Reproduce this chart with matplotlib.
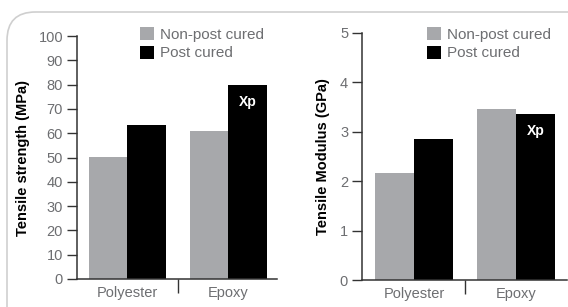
import matplotlib.pyplot as plt
from matplotlib.patches import FancyBboxPatch

plt.rcParams['font.family'] = ['Liberation Sans', 'DejaVu Sans']

materials = ['Polyester', 'Epoxy']
series = ['Non-post cured', 'Post cured']
strength_non = [50.3, 60.8]
strength_post = [63.3, 80.0]
modulus_non = [2.17, 3.46]
modulus_post = [2.86, 3.36]
strength_ticks = list(range(0, 101, 10))
modulus_ticks = [0, 1, 2, 3, 4, 5]

grey = '#a7a8ab'
dark = '#333333'
txt = '#6d6e71'
W, H = 568, 307

fig = plt.figure(figsize=(W / 100, H / 100), dpi=100)

# rounded frame, cropped on the right and bottom
frame = FancyBboxPatch((7 / W, -0.2), 1.3, 1.2 - 12 / H,
                       boxstyle='round,pad=0,rounding_size=0.05',
                       transform=fig.transFigure, fc='white', ec='#cfcfcf',
                       lw=1.2, mutation_aspect=W / H, zorder=-5)
fig.patches.append(frame)
fig.text(76 / W, 1 + 4 / H, 'g', fontsize=14, fontweight='bold', color='black',
         ha='left', va='baseline')


def panel(rect, non, post, ymax, ticks, ylabel, xlim, leg_xy, ylab_x):
    ax = fig.add_axes(rect)
    ax.patch.set_alpha(0)
    x = range(len(materials))
    w = 0.38
    b1 = ax.bar([i - w / 2 for i in x], non, w, color=grey, label=series[0])
    b2 = ax.bar([i + w / 2 for i in x], post, w, color='black', label=series[1])
    ax.text(1 + w / 2, post[1] - ymax * 0.07, 'Xp', color='white',
            fontweight='bold', fontsize=10, ha='center', va='center')
    ax.set_xlim(*xlim)
    ax.set_ylim(0, ymax)
    for s in ['top', 'right']:
        ax.spines[s].set_visible(False)
    for s in ['left', 'bottom']:
        ax.spines[s].set_color(dark)
        ax.spines[s].set_linewidth(1.1)
    ax.set_yticks(ticks)
    ax.tick_params(axis='y', length=7, width=1, color=dark, pad=3,
                   labelsize=10.5, labelcolor=txt)
    ax.set_xticks([0.5])
    ax.set_xticklabels([''])
    ax.tick_params(axis='x', which='major', length=10, width=1, color=dark)
    ax.set_xticks([0, 1], minor=True)
    ax.set_xticklabels(materials, minor=True)
    ax.tick_params(axis='x', which='minor', length=0, pad=5,
                   labelsize=10.5, labelcolor=txt)
    fig.text(ylab_x / W, (rect[1] + rect[3] / 2), ylabel, rotation=90,
             fontsize=10.5, fontweight='bold', color='black',
             ha='center', va='center')
    ax.legend(handles=[b1, b2], loc='upper left', frameon=False,
              bbox_to_anchor=(leg_xy[0] / W, 1 - leg_xy[1] / H),
              bbox_transform=fig.transFigure, borderpad=0, borderaxespad=0,
              handlelength=0.9, handleheight=0.9, handletextpad=0.4,
              labelspacing=0.28, fontsize=11, labelcolor=txt)
    return ax


panel([77 / W, 28 / H, 200 / W, 243 / H], strength_non, strength_post, 100,
      strength_ticks, 'Tensile strength (MPa)', (-0.495, 1.48), (140, 27), 23)
panel([362 / W, 27 / H, 205 / W, 247 / H], modulus_non, modulus_post, 5,
      modulus_ticks, 'Tensile Modulus (GPa)', (-0.51, 1.5), (427, 27), 323)

fig.savefig('out.png', dpi=100)
